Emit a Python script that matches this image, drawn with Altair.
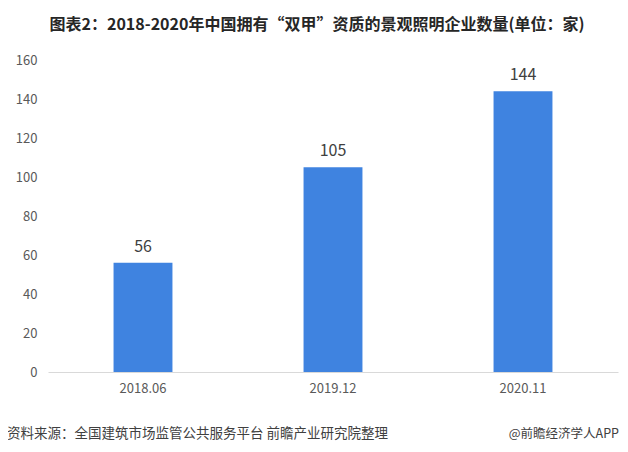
import altair as alt
import pandas as pd

categories = ["2018.06", "2019.12", "2020.11"]
values = [56, 105, 144]
y_ticks = [0, 20, 40, 60, 80, 100, 120, 140, 160]
title_text = "图表2：2018-2020年中国拥有“双甲”资质的景观照明企业数量(单位：家)"
source_text = "资料来源：全国建筑市场监管公共服务平台 前瞻产业研究院整理"
brand_text = "@前瞻经济学人APP"

df = pd.DataFrame({"period": categories, "count": values})
FONT = "Noto Sans CJK SC"

x = alt.X("period:N", sort=categories, title=None,
          scale=alt.Scale(paddingInner=0.69, paddingOuter=0.345),
          axis=alt.Axis(labelAngle=0, labelFontSize=13, labelColor="#595959",
                        labelFont=FONT, domainColor="#d9d9d9", ticks=False,
                        labelPadding=10, grid=False))
y = alt.Y("count:Q", title=None,
          scale=alt.Scale(domain=[0, 160], nice=False),
          axis=alt.Axis(values=y_ticks, tickCount=12, labelFontSize=13,
                        labelColor="#595959", labelFont=FONT, domain=False,
                        ticks=False, grid=False, labelPadding=11,
                        labelOverlap=False))

bars = alt.Chart(df).mark_bar(color="#3f83e0").encode(x=x, y=y)
labels = alt.Chart(df).mark_text(dy=-16, fontSize=16, color="#404040", font=FONT).encode(
    x=x, y=y, text="count:Q")

foot = pd.DataFrame({"t": [source_text]})
src = alt.Chart(foot).mark_text(align="left", baseline="middle", fontSize=13.5,
                                color="#404040", font=FONT).encode(
    x=alt.value(-41), y=alt.value(374), text="t:N")
brand = alt.Chart(pd.DataFrame({"t": [brand_text]})).mark_text(
    align="right", baseline="middle", fontSize=12.5, color="#404040", font=FONT).encode(
    x=alt.value(571), y=alt.value(374), text="t:N")

chart = alt.layer(bars, labels, src, brand).properties(
    width=570, height=312,
    title=alt.Title(title_text, fontSize=16, fontWeight="bold", font=FONT,
                    color="#262626", anchor="middle", dx=-16, offset=21),
    autosize=alt.AutoSizeParams(type="none"),
    padding={"left": 40, "top": 52, "right": 2, "bottom": 72},
).configure_view(stroke=None)

chart.save("out.html", embed_options={"renderer": "svg", "actions": False})
